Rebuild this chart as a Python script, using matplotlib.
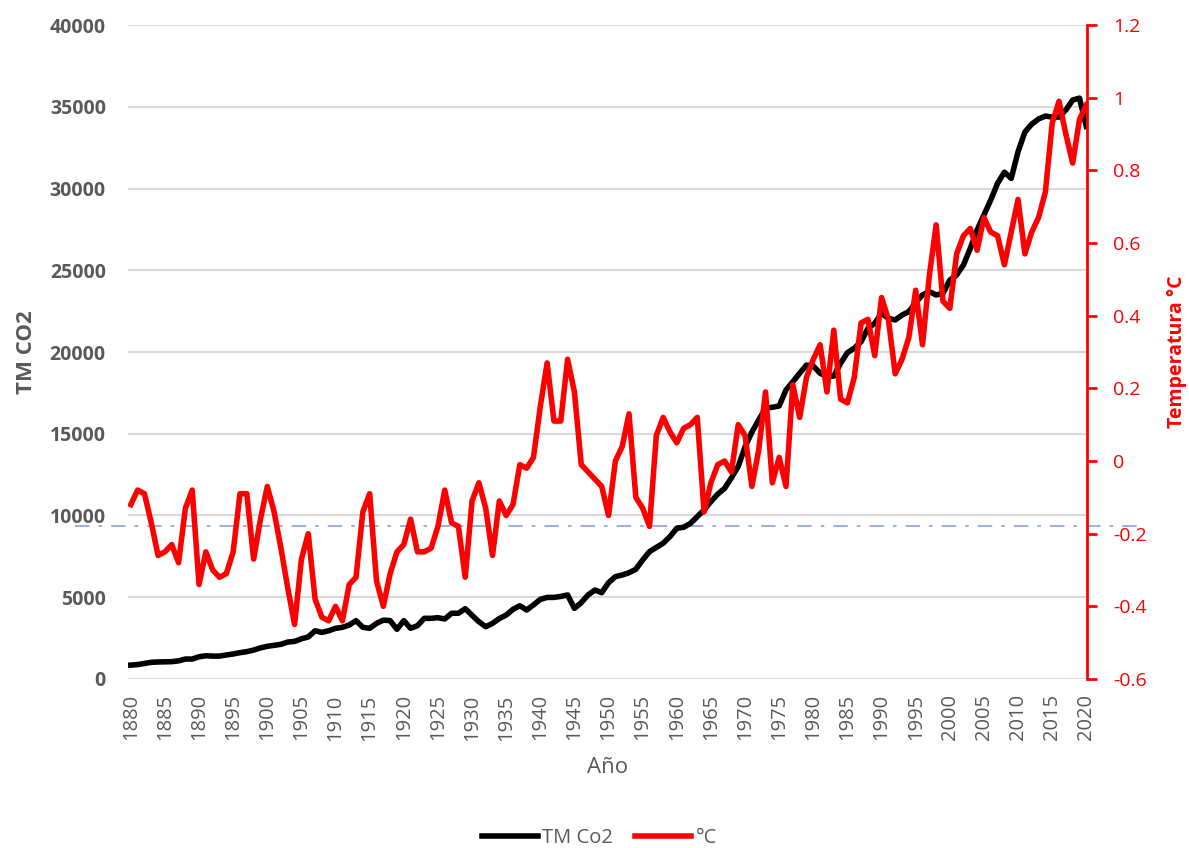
import matplotlib
matplotlib.use("Agg")
import matplotlib.pyplot as plt
from matplotlib.ticker import MultipleLocator, FuncFormatter

plt.rcParams['font.family'] = ['Open Sans', 'DejaVu Sans']

# %% data
years = list(range(1880, 2021))

co2_tm = [
    850, 880, 950, 1020, 1040, 1050, 1060, 1110, 1220, 1220,          # 1880s
    1360, 1420, 1400, 1400, 1470, 1530, 1610, 1670, 1770, 1900,       # 1890s
    2000, 2060, 2120, 2260, 2300, 2460, 2570, 2950, 2850, 2950,       # 1900s
    3100, 3160, 3300, 3570, 3160, 3100, 3400, 3600, 3570, 3040,       # 1910s
    3570, 3100, 3260, 3710, 3710, 3750, 3670, 4020, 4020, 4300,       # 1920s
    3900, 3500, 3200, 3400, 3700, 3910, 4260, 4480, 4220, 4530,       # 1930s
    4870, 4990, 4990, 5050, 5140, 4320, 4670, 5140, 5440, 5280,       # 1940s
    5890, 6260, 6360, 6500, 6710, 7280, 7790, 8050, 8300, 8710,       # 1950s
    9220, 9280, 9520, 9930, 10340, 10850, 11310, 11660, 12300, 13000,  # 1960s
    14200, 15100, 15840, 16560, 16620, 16700, 17680, 18180, 18700, 19200,  # 1970s
    19140, 18700, 18490, 18530, 19310, 19960, 20230, 20630, 21450, 21750,  # 1980s
    22370, 22060, 21960, 22260, 22470, 23020, 23490, 23690, 23490, 23590,  # 1990s
    24400, 24710, 25320, 26340, 27460, 28380, 29300, 30320, 31000, 30620,  # 2000s
    32250, 33450, 33940, 34250, 34430, 34370, 34370, 34800, 35410, 35530,  # 2010s
    33800,                                                             # 2020
]

temp_c = [
    -0.12, -0.08, -0.09, -0.17, -0.26, -0.25, -0.23, -0.28, -0.13, -0.08,
    -0.34, -0.25, -0.30, -0.32, -0.31, -0.25, -0.09, -0.09, -0.27, -0.16,
    -0.07, -0.14, -0.24, -0.35, -0.45, -0.27, -0.20, -0.38, -0.43, -0.44,
    -0.40, -0.44, -0.34, -0.32, -0.14, -0.09, -0.33, -0.40, -0.31, -0.25,
    -0.23, -0.16, -0.25, -0.25, -0.24, -0.18, -0.08, -0.17, -0.18, -0.32,
    -0.11, -0.06, -0.13, -0.26, -0.11, -0.15, -0.12, -0.01, -0.02, 0.01,
    0.15, 0.27, 0.11, 0.11, 0.28, 0.19, -0.01, -0.03, -0.05, -0.07,
    -0.15, 0.00, 0.04, 0.13, -0.10, -0.13, -0.18, 0.07, 0.12, 0.08,
    0.05, 0.09, 0.10, 0.12, -0.14, -0.06, -0.01, 0.00, -0.03, 0.10,
    0.07, -0.07, 0.03, 0.19, -0.06, 0.01, -0.07, 0.21, 0.12, 0.23,
    0.28, 0.32, 0.19, 0.36, 0.17, 0.16, 0.23, 0.38, 0.39, 0.29,
    0.45, 0.39, 0.24, 0.28, 0.34, 0.47, 0.32, 0.51, 0.65, 0.44,
    0.42, 0.57, 0.62, 0.64, 0.58, 0.67, 0.63, 0.62, 0.54, 0.63,
    0.72, 0.57, 0.63, 0.67, 0.74, 0.93, 0.99, 0.90, 0.82, 0.94,
    0.98,
]

reference_co2 = 9350   # dash-dot reference line

# %% styling
GRAY = '#595959'
RED = '#FF0000'

fig = plt.figure(figsize=(11.89, 8.48), dpi=100)
ax = fig.add_axes([0.1077, 0.1993, 0.8065, 0.7712])

ax.plot(years, co2_tm, color='black', lw=4, solid_joinstyle='round',
        label='TM Co2', zorder=3)
ax.set_xlim(1879.6, 2020.1)
ax.set_ylim(0, 40000)
ax.yaxis.set_major_locator(MultipleLocator(5000))
ax.grid(axis='y', color='#D9D9D9', lw=1.5, zorder=0)
ax.set_axisbelow(True)
for side in ['left', 'top', 'right', 'bottom']:
    ax.spines[side].set_visible(False)

ax.set_xticks(list(range(1880, 2021, 5)))
ax.tick_params(axis='x', length=0, pad=11, labelrotation=90,
               labelsize=14.5, labelcolor=GRAY)
ax.tick_params(axis='y', length=0, pad=16, labelsize=14, labelcolor=GRAY)
for lbl in ax.get_yticklabels():
    lbl.set_fontweight('bold')
ax.set_xlabel('Año', fontsize=16, color=GRAY, labelpad=12)
ax.set_ylabel('TM CO2', fontsize=16, color=GRAY, fontweight='bold', labelpad=9)

ax.axhline(reference_co2, xmin=-0.055, xmax=1.06, clip_on=False,
           color='#8FAADC', lw=1.3, ls=(0, (8, 5, 2, 5)), zorder=1)

# %% temperature on the right axis
ax2 = ax.twinx()
ax2.plot(years, temp_c, color=RED, lw=4, solid_joinstyle='round',
         label='°C', zorder=4)
ax2.set_ylim(-0.6, 1.2)
ax2.yaxis.set_major_locator(MultipleLocator(0.2))
ax2.yaxis.set_major_formatter(FuncFormatter(lambda v, p: f'{round(v, 1):g}'))
for side in ['left', 'top', 'bottom']:
    ax2.spines[side].set_visible(False)
ax2.spines['right'].set_color(RED)
ax2.spines['right'].set_linewidth(2)
ax2.tick_params(axis='y', colors=RED, length=7, width=2, pad=12, labelsize=14)
ax2.set_ylabel('Temperatura °C', fontsize=14, color=RED, fontweight='bold',
               labelpad=14)

handles = ax.get_lines()[:1] + ax2.get_lines()[:1]
fig.legend(handles, [h.get_label() for h in handles], loc='center',
           bbox_to_anchor=(0.504, 0.0118), ncol=2, frameon=False, fontsize=14.5,
           handlelength=2.8, handletextpad=0.2, columnspacing=1.1,
           labelcolor=GRAY)

fig.savefig('out.png', dpi=100)
